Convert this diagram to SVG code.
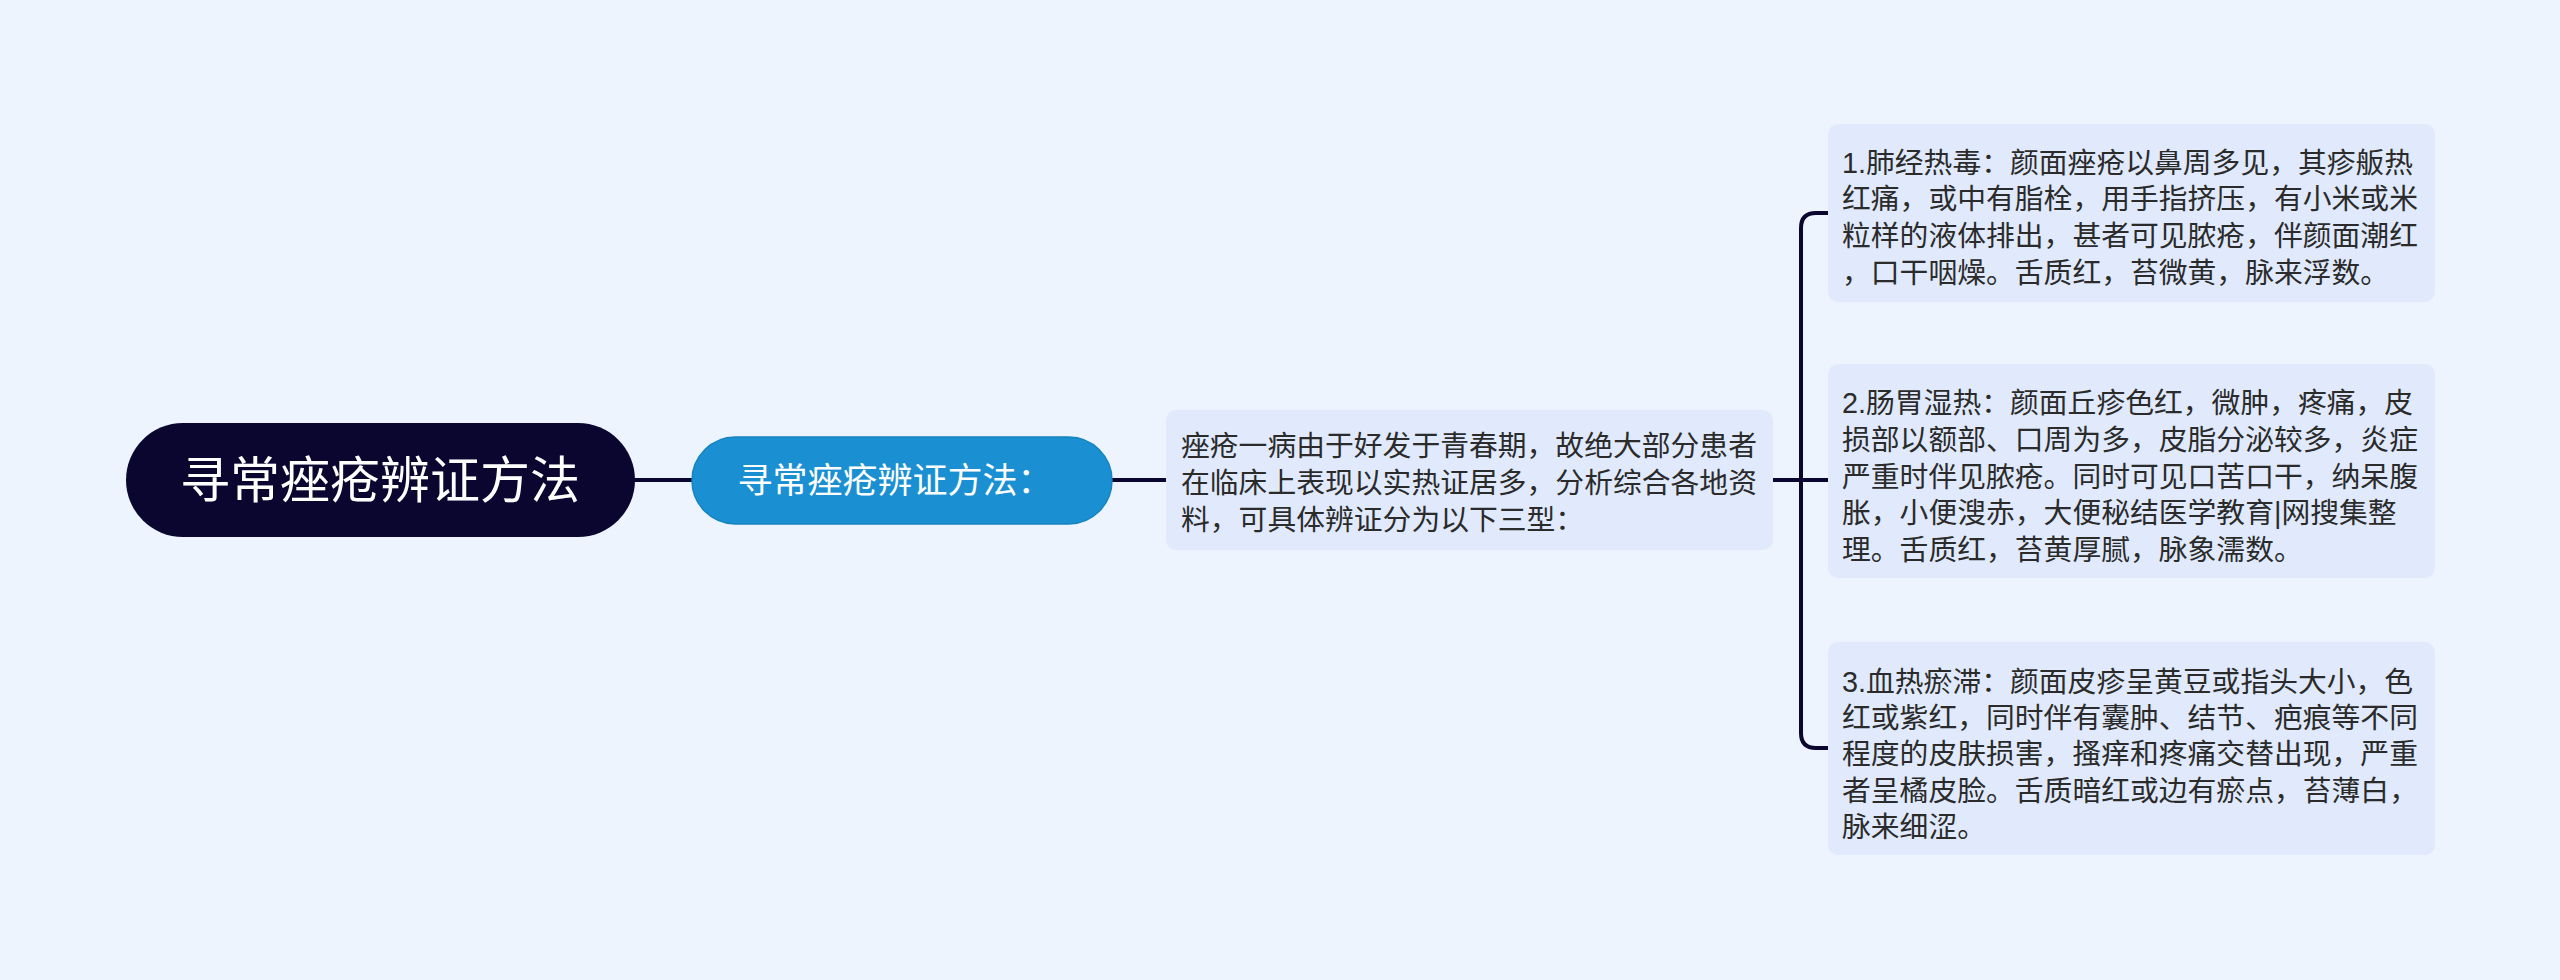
<svg xmlns="http://www.w3.org/2000/svg" width="2560" height="980" viewBox="0 0 2560 980">
<style>
.bg{fill:#eef4fe}
.box{fill:#e0eafc}
.t{font-family:"Liberation Sans","Noto Sans CJK SC",sans-serif;font-size:28.8px;fill:#2b2b2b}
.w{font-family:"Liberation Sans","Noto Sans CJK SC",sans-serif;fill:#ffffff;text-anchor:middle}
.c{fill:none;stroke:#0b0630;stroke-width:4;stroke-linecap:round}
</style>
<rect class="bg" x="0" y="0" width="2560" height="980"/>
<g id="connectors">
<path class="c" d="M635 480 H692"/>
<path class="c" d="M1112 480 H1166"/>
<path class="c" d="M1773 480 H1828"/>
<path class="c" d="M1828 213 H1816 Q1801 213 1801 228 V733 Q1801 748 1816 748 H1828"/>
</g>
<g id="root">
<rect x="126" y="423" width="509" height="114" rx="57" fill="#0b0630"/>
<text class="w" x="380" y="498" font-size="50">寻常痤疮辨证方法</text>
</g>
<g id="child">
<rect x="692" y="437" width="420" height="87" rx="43.5" fill="#1a90d2" stroke="#1683c0" stroke-width="1.5"/>
<text class="w" x="895" y="493" font-size="35">寻常痤疮辨证方法：</text>
</g>
<g id="summary">
<rect class="box" x="1166" y="410" width="607" height="140" rx="10"/>
<text class="t" x="1181" y="456">痤疮一病由于好发于青春期，故绝大部分患者</text>
<text class="t" x="1181" y="493">在临床上表现以实热证居多，分析综合各地资</text>
<text class="t" x="1181" y="530">料，可具体辨证分为以下三型：</text>
</g>
<g id="type1">
<rect class="box" x="1828" y="124" width="607" height="178" rx="10"/>
<text class="t" x="1842" y="173">1.肺经热毒：颜面痤疮以鼻周多见，其疹舨热</text>
<text class="t" x="1842" y="209">红痛，或中有脂栓，用手指挤压，有小米或米</text>
<text class="t" x="1842" y="246">粒样的液体排出，甚者可见脓疮，伴颜面潮红</text>
<text class="t" x="1842" y="283">，口干咽燥。舌质红，苔微黄，脉来浮数。</text>
</g>
<g id="type2">
<rect class="box" x="1828" y="364" width="607" height="214" rx="10"/>
<text class="t" x="1842" y="413">2.肠胃湿热：颜面丘疹色红，微肿，疼痛，皮</text>
<text class="t" x="1842" y="450">损部以额部、口周为多，皮脂分泌较多，炎症</text>
<text class="t" x="1842" y="487">严重时伴见脓疮。同时可见口苦口干，纳呆腹</text>
<text class="t" x="1842" y="523">胀，小便溲赤，大便秘结医学教育|网搜集整</text>
<text class="t" x="1842" y="560">理。舌质红，苔黄厚腻，脉象濡数。</text>
</g>
<g id="type3">
<rect class="box" x="1828" y="642" width="607" height="213" rx="10"/>
<text class="t" x="1842" y="692">3.血热瘀滞：颜面皮疹呈黄豆或指头大小，色</text>
<text class="t" x="1842" y="728">红或紫红，同时伴有囊肿、结节、疤痕等不同</text>
<text class="t" x="1842" y="764">程度的皮肤损害，搔痒和疼痛交替出现，严重</text>
<text class="t" x="1842" y="801">者呈橘皮脸。舌质暗红或边有瘀点，苔薄白，</text>
<text class="t" x="1842" y="837">脉来细涩。</text>
</g>
</svg>
